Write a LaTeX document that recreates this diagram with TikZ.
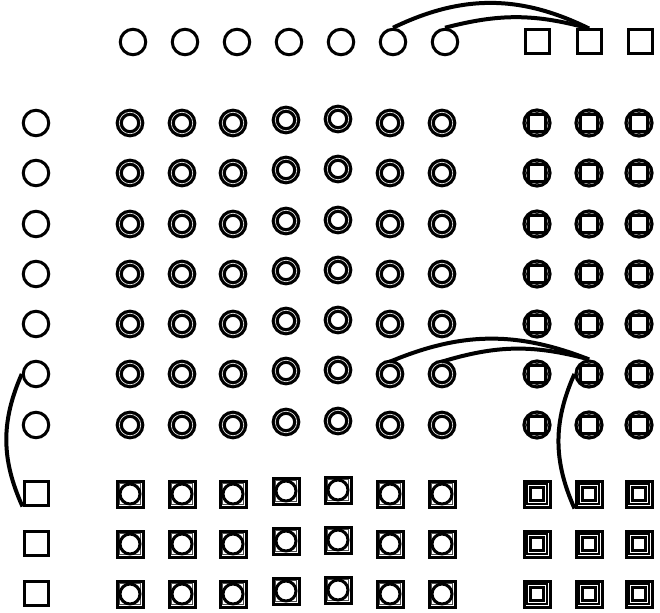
\documentclass[tikz,border=0pt]{standalone}
\begin{document}
\begin{tikzpicture}[x=1pt,y=-1pt,
  vtx/.style={circle,draw,line width=3pt,minimum size=25.5pt,inner sep=0pt},
  vbox/.style={rectangle,draw,line width=3pt,minimum size=24pt,inner sep=0pt},
  dvtx/.style={circle,draw,line width=3.2pt,double=black!10,double distance=.7pt,minimum size=21.5pt,inner sep=0pt},
  ring/.style={circle,draw,line width=3.2pt,minimum size=26pt,inner sep=0pt},
  ringin/.style={circle,draw,line width=1.2pt,minimum size=20.5pt,inner sep=0pt},
  frame/.style={rectangle,draw,line width=3pt,minimum size=26pt,inner sep=0pt},
  framein/.style={rectangle,draw=black!70,line width=1pt,minimum size=20.5pt,inner sep=0pt},
  invtx/.style={circle,draw,line width=3pt,minimum size=20pt,inner sep=0pt},
  inbox/.style={rectangle,draw,line width=3pt,minimum size=17pt,inner sep=0pt},
  link/.style={line width=4pt}]
  \useasboundingbox (0,0) rectangle (660,612);
  % top row
  \foreach \c/\x in {1/133,2/185,3/237,4/289,5/341,6/393,7/445}{
    \node[vtx] (t-\c) at (\x,42){};
  }
  \foreach \c/\x in {1/537,2/589,3/640}{
    \node[vbox] (ts-\c) at (\x,42){};
  }
  % left column
  \foreach \r/\y in {1/123,2/173,3/224,4/274,5/324,6/374,7/425}{
    \node[vtx] (l-\r) at (36,\y){};
  }
  \foreach \r/\y in {1/493,2/543,3/593}{
    \node[vbox] (ls-\r) at (36,\y){};
  }
  % circle rows
  \foreach \r/\y in {1/123,2/173,3/224,4/274,5/324,6/374,7/425}{
    \foreach \c/\x/\d in {1/130/0,2/182/0,3/233/0,4/286/-3,5/338/-4,6/390/0,7/442/0}{
      \node[dvtx] (g-\r-\c) at (\x,\y+\d){};
    }
    \foreach \c/\x in {1/537,2/589,3/639}{
      \node[ring] (r-\r-\c) at (\x,\y){};
      \node[ringin] at (\x,\y){};
      \node[inbox] (ri-\r-\c) at (\x,\y){};
    }
  }
  % square rows
  \foreach \r/\y in {1/494,2/544,3/594}{
    \foreach \c/\x/\d in {1/130/0,2/182/0,3/233/0,4/286/-3,5/338/-4,6/390/0,7/442/0}{
      \node[frame] (b-\r-\c) at (\x,\y+\d){};
      \node[framein] at (\x,\y+\d){};
      \node[invtx] (bi-\r-\c) at (\x,\y+\d){};
    }
    \foreach \c/\x in {1/537,2/589,3/639}{
      \node[frame] (q-\r-\c) at (\x,\y){};
      \node[framein,draw=black,line width=1.2pt,minimum size=20pt] at (\x,\y){};
      \node[inbox,minimum size=13pt] (qi-\r-\c) at (\x,\y){};
    }
  }
  % links
  \draw[link] (t-6.north) to[bend left=26] (ts-2.north);
  \draw[link] (t-7.north) to[bend left=15] (ts-2.north);
  \draw[link] (g-6-6.north) to[bend left=22] (r-6-2.north);
  \draw[link] (g-6-7.north) to[bend left=16] (r-6-2.north);
  \draw[link] (l-6.west) to[bend right=24] (ls-1.south west);
  \draw[link] (r-6-2.west) to[bend right=24] (q-1-2.south west);
\end{tikzpicture}
\end{document}
